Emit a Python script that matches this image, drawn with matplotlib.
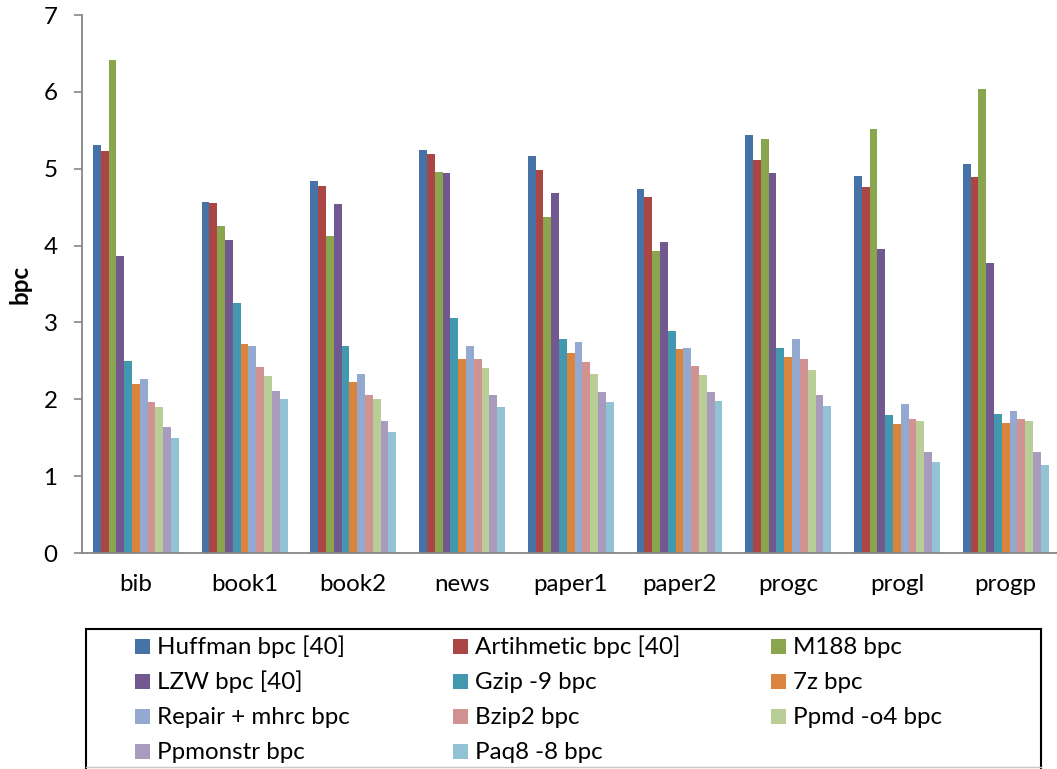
import matplotlib
matplotlib.use("Agg")
import matplotlib.pyplot as plt
from matplotlib.patches import Rectangle
from matplotlib.lines import Line2D
import numpy as np

# Corpus files
categories = ["bib", "book1", "book2", "news", "paper1", "paper2", "progc", "progl", "progp"]

# Bits per character for each compressor
huffman   = [5.31, 4.57, 4.84, 5.25, 5.17, 4.73, 5.44, 4.91, 5.06]
arith     = [5.23, 4.55, 4.78, 5.19, 4.98, 4.63, 5.11, 4.76, 4.89]
m188      = [6.41, 4.25, 4.13, 4.96, 4.37, 3.93, 5.39, 5.52, 6.04]
lzw       = [3.87, 4.07, 4.54, 4.94, 4.69, 4.05, 4.94, 3.96, 3.77]
gzip9     = [2.50, 3.25, 2.69, 3.06, 2.78, 2.89, 2.67, 1.80, 1.81]
sevenz    = [2.20, 2.72, 2.22, 2.52, 2.60, 2.66, 2.55, 1.68, 1.69]
repair    = [2.26, 2.69, 2.33, 2.69, 2.75, 2.67, 2.78, 1.94, 1.85]
bzip2     = [1.97, 2.42, 2.06, 2.52, 2.49, 2.43, 2.52, 1.74, 1.74]
ppmd      = [1.90, 2.30, 2.00, 2.41, 2.33, 2.31, 2.38, 1.72, 1.72]
ppmonstr  = [1.64, 2.11, 1.72, 2.06, 2.10, 2.10, 2.06, 1.32, 1.32]
paq8      = [1.49, 2.00, 1.58, 1.90, 1.96, 1.98, 1.91, 1.19, 1.15]

series_names = ["Huffman bpc [40]", "Artihmetic bpc [40]", "M188 bpc",
                "LZW bpc [40]", "Gzip -9 bpc", "7z bpc",
                "Repair + mhrc bpc", "Bzip2 bpc", "Ppmd -o4 bpc",
                "Ppmonstr bpc", "Paq8 -8 bpc"]
series_values = [huffman, arith, m188, lzw, gzip9, sevenz, repair, bzip2,
                 ppmd, ppmonstr, paq8]
colors = ["#4572A7", "#AA4643", "#89A54E", "#71588F", "#4198AF", "#DB843D",
          "#93A9CF", "#D19392", "#B9CD96", "#A99BBD", "#92C3D5"]

y_ticks = [0, 1, 2, 3, 4, 5, 6, 7]

plt.rcParams["font.family"] = ["Lato", "DejaVu Sans"]
FS = 17.4

W, H = 1057, 769
fig = plt.figure(figsize=(W / 100, H / 100), dpi=100)

# Plot area in pixel terms, converted to figure fractions
ax_left, ax_right, ax_top, ax_bottom = 81.5, 1060.0, 15.0, 553.0
ax = fig.add_axes([ax_left / W, 1 - ax_bottom / H,
                   (ax_right - ax_left) / W, (ax_bottom - ax_top) / H])

n = len(series_values)
group = 0.79
bw = group / n
x = np.arange(len(categories))
for j, (vals, col) in enumerate(zip(series_values, colors)):
    ax.bar(x + (j - (n - 1) / 2) * bw, vals, width=bw, color=col,
           edgecolor="none", zorder=2)

ax.set_xlim(-0.5, len(categories) - 0.5)
ax.set_ylim(0, 7)
ax.set_yticks(y_ticks)
ax.set_yticklabels([str(t) for t in y_ticks], fontsize=FS)
ax.set_xticks(x)
ax.set_xticklabels(categories, fontsize=FS)
ax.tick_params(axis="x", length=0, pad=15)
ax.tick_params(axis="y", length=5.8, width=1.2, color="#868686", pad=11.5,
               direction="out")

for side in ["top", "right"]:
    ax.spines[side].set_visible(False)
for side in ["left", "bottom"]:
    ax.spines[side].set_color("#868686")
    ax.spines[side].set_linewidth(1.3)

ax.set_ylabel("bpc", fontsize=FS, fontweight="bold", va="center")
ax.yaxis.set_label_coords((20 - ax_left) / (ax_right - ax_left), 0.5)

# Legend box (extends past the bottom of the canvas)
def fx(px):
    return px / W

def fy(py):
    return 1 - py / H

box_l, box_r, box_t, box_b = 86, 1041, 629, 767
for xs, ys in [([box_l, box_r], [box_t, box_t]),
               ([box_l, box_l], [box_t, H + 5]),
               ([box_r, box_r], [box_t, H + 5])]:
    fig.add_artist(Line2D([fx(v) for v in xs], [fy(v) for v in ys],
                          color="black", linewidth=1.5))
fig.add_artist(Line2D([fx(box_l), fx(box_r)], [fy(box_b), fy(box_b)],
                      color="#c8c8c8", linewidth=1.0))

col_x = [135, 453, 771]
row_y = [646.7, 681.7, 716.7, 751.7]
sq = 15
for k, (name, col) in enumerate(zip(series_names, colors)):
    r, c = divmod(k, 3)
    mx, my = col_x[c], row_y[r]
    fig.add_artist(Rectangle((fx(mx), fy(my + sq / 2)), sq / W, sq / H,
                             facecolor=col, edgecolor="none",
                             transform=fig.transFigure))
    fig.text(fx(mx + 21.7), fy(my + 7.3), name, fontsize=FS,
             ha="left", va="baseline")

fig.savefig("out.png", dpi=100)
